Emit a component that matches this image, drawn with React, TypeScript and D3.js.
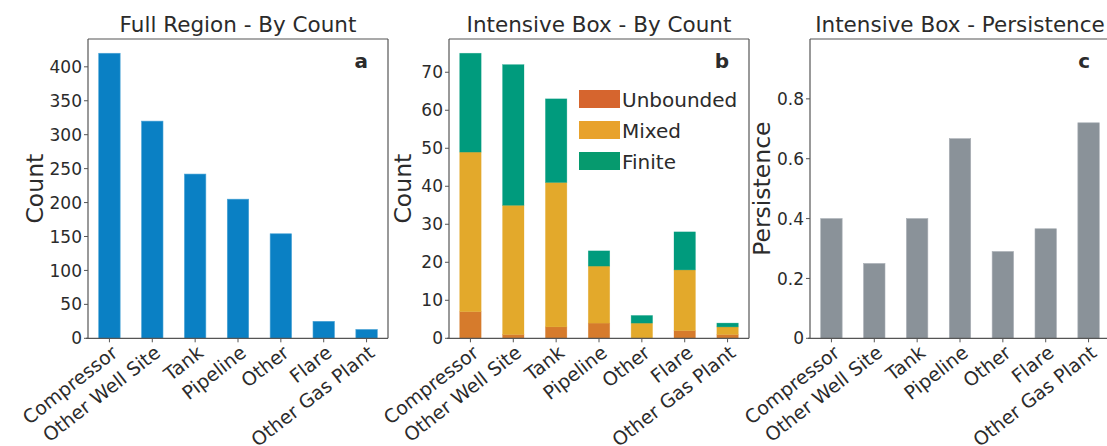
import React from "react";
import * as d3 from "d3";

const categories = ["Compressor", "Other Well Site", "Tank", "Pipeline", "Other", "Flare", "Other Gas Plant"];
const fullCounts = [420, 320, 242, 205, 154, 25, 13];
const unbounded = [7, 1, 3, 4, 0, 2, 1];
const mixed = [42, 34, 38, 15, 4, 16, 2];
const finite = [26, 37, 22, 4, 2, 10, 1];
const persistence = [0.4, 0.25, 0.4, 0.667, 0.29, 0.366, 0.72];

const ticksA = [0, 50, 100, 150, 200, 250, 300, 350, 400];
const ticksB = [0, 10, 20, 30, 40, 50, 60, 70];
const ticksC = [0, 0.2, 0.4, 0.6, 0.8];
const tickLabelsC = ["0", "0.2", "0.4", "0.6", "0.8"];

const seriesNames = ["Unbounded", "Mixed", "Finite"];
const barColors = ["#D67B2C", "#E3A92B", "#009B7D"];
const legendColors = ["#D6652E", "#E8A22C", "#069A6E"];

const FONT = "'DejaVu Sans', sans-serif";
const TEXT = "#2b2b2b";
const SPINE = "#555";

const TOP = 39;
const BOTTOM = 338.3;
const W = 300;

type PanelProps = {
  x0: number;
  title: string;
  ylabel: string;
  ylabelX: number;
  letter: string;
  ymax: number;
  ticks: number[];
  tickLabels?: string[];
  children: (x: d3.ScaleBand<string>, y: d3.ScaleLinear<number, number>) => React.ReactNode;
};

function Panel({ x0, title, ylabel, ylabelX, letter, ymax, ticks, tickLabels, children }: PanelProps) {
  const x = d3.scaleBand<string>().domain(categories).range([x0, x0 + W]).paddingInner(0.5).paddingOuter(0.25);
  const y = d3.scaleLinear().domain([0, ymax]).range([BOTTOM, TOP]);
  const cy = (TOP + BOTTOM) / 2;
  return (
    <g>
      {children(x, y)}
      <line x1={x0} x2={x0} y1={TOP} y2={BOTTOM} stroke={SPINE} strokeWidth={1.2} />
      <line x1={x0} x2={x0 + W} y1={TOP} y2={TOP} stroke={SPINE} strokeWidth={1.2} />
      <line x1={x0 + W} x2={x0 + W} y1={TOP} y2={BOTTOM} stroke={SPINE} strokeWidth={1.2} />
      <line x1={x0 - 2} x2={x0 + W} y1={BOTTOM} y2={BOTTOM} stroke={SPINE} strokeWidth={1.2} />
      {ticks.map((t, i) => (
        <g key={t}>
          <line x1={x0 - 4} x2={x0} y1={y(t)} y2={y(t)} stroke={SPINE} strokeWidth={1} />
          <text x={x0 - 6} y={y(t)} dy="0.36em" textAnchor="end" fontSize={17} fill={TEXT} fontFamily={FONT}>
            {tickLabels ? tickLabels[i] : String(t)}
          </text>
        </g>
      ))}
      {categories.map((c) => {
        const cx = (x(c) as number) + x.bandwidth() / 2;
        return (
          <g key={c}>
            <line x1={cx} x2={cx} y1={BOTTOM} y2={BOTTOM + 4} stroke={SPINE} strokeWidth={1} />
            <text
              transform={`translate(${cx + 1},${BOTTOM + 6}) rotate(-38)`}
              textAnchor="end"
              dy="0.72em"
              fontSize={19}
              fill={TEXT}
              fontFamily={FONT}
            >
              {c}
            </text>
          </g>
        );
      })}
      <text x={x0 + W / 2} y={32} textAnchor="middle" fontSize={21.5} fill={TEXT} fontFamily={FONT}>
        {title}
      </text>
      <text
        transform={`translate(${ylabelX},${cy}) rotate(-90)`}
        textAnchor="middle"
        fontSize={23.5}
        fill={TEXT}
        fontFamily={FONT}
      >
        {ylabel}
      </text>
      <text x={x0 + W - 20} y={68} textAnchor="end" fontSize={20} fontWeight="bold" fill={TEXT} fontFamily={FONT}>
        {letter}
      </text>
    </g>
  );
}

export default function App() {
  const stackData = categories.map((c, i) => ({ cat: c, Unbounded: unbounded[i], Mixed: mixed[i], Finite: finite[i] }));
  const stacked = d3.stack<any>().keys(seriesNames)(stackData);

  return (
    <svg width={1107} height={446} style={{ position: "absolute", left: 0, top: 0 }}>
      <rect width={1107} height={446} fill="#fff" />
      <Panel x0={88} title="Full Region - By Count" ylabel="Count" ylabelX={43} letter="a" ymax={441} ticks={ticksA}>
        {(x, y) =>
          categories.map((c, i) => (
            <rect
              key={c}
              x={x(c)}
              width={x.bandwidth()}
              y={y(fullCounts[i])}
              height={y(0) - y(fullCounts[i])}
              fill="#0A80C4"
              stroke="#4aa3d6"
              strokeWidth={0.6}
            />
          ))
        }
      </Panel>
      <Panel x0={449} title="Intensive Box - By Count" ylabel="Count" ylabelX={411} letter="b" ymax={78.75} ticks={ticksB}>
        {(x, y) => (
          <g>
            {stacked.map((layer, li) =>
              layer.map((d: any) => (
                <rect
                  key={seriesNames[li] + d.data.cat}
                  x={x(d.data.cat)}
                  width={x.bandwidth()}
                  y={y(d[1])}
                  height={Math.max(0, y(d[0]) - y(d[1]))}
                  fill={barColors[li]}
                  stroke={d[1] - d[0] > 0 ? barColors[li] : "none"}
                  strokeOpacity={0.5}
                  strokeWidth={0.6}
                />
              ))
            )}
            {seriesNames.map((s, i) => (
              <g key={s}>
                <rect x={579} y={90 + i * 31} width={41} height={18} fill={legendColors[i]} />
                <text x={622} y={90 + i * 31 + 17} fontSize={20} fill={TEXT} fontFamily={FONT}>
                  {s}
                </text>
              </g>
            ))}
          </g>
        )}
      </Panel>
      <Panel
        x0={810}
        title="Intensive Box - Persistence"
        ylabel="Persistence"
        ylabelX={770}
        letter="c"
        ymax={1.0}
        ticks={ticksC}
        tickLabels={tickLabelsC}
      >
        {(x, y) =>
          categories.map((c, i) => (
            <rect
              key={c}
              x={x(c)}
              width={x.bandwidth()}
              y={y(persistence[i])}
              height={y(0) - y(persistence[i])}
              fill="#8A9299"
              stroke="#a9afb5"
              strokeWidth={0.6}
            />
          ))
        }
      </Panel>
    </svg>
  );
}
